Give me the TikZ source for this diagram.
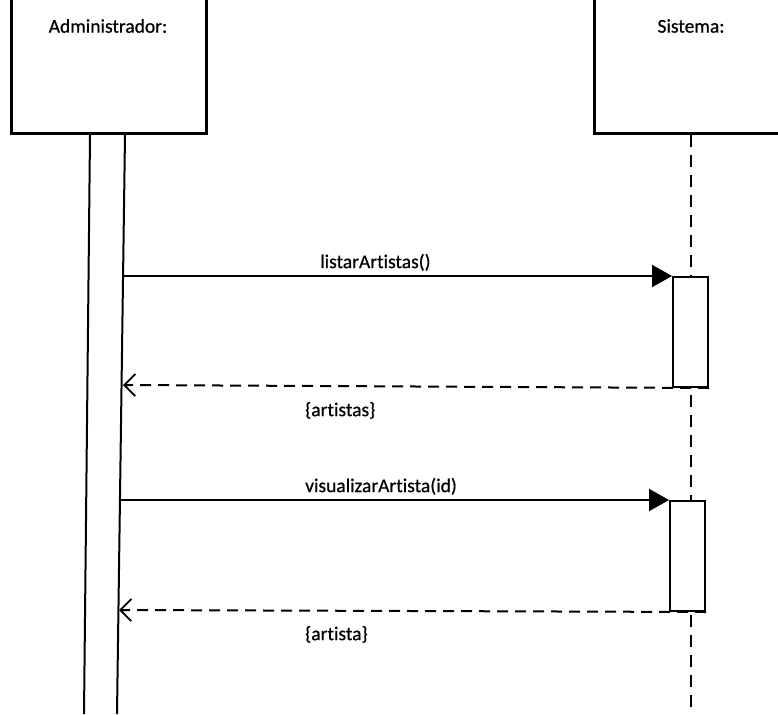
\documentclass[tikz,border=0pt]{standalone}
\usepackage{fontspec}
\setmainfont{Carlito}[RawFeature={-liga}, FakeBold=0.6]
\usetikzlibrary{arrows.meta}
\begin{document}
\begin{tikzpicture}[x=1pt,y=-1pt,
  every node/.style={font=\fontsize{19.5}{23}\selectfont, inner sep=0pt},
  actorbox/.style={draw, line width=2.6pt, anchor=south west, minimum height=170pt},
  actbar/.style={draw, line width=2pt, fill=white, anchor=north west, minimum width=35pt, minimum height=110pt},
  lifeline/.style={line width=2pt},
  sysline/.style={line width=2pt, dash pattern=on 12pt off 8pt},
  callmsg/.style={line width=2pt, -{Triangle[length=20pt,width=22pt]}},
  replymsg/.style={line width=2pt, dash pattern=on 11pt off 7pt, -{Straight Barb[length=11pt,width=22pt,line width=1.8pt]}},
  msglabel/.style={anchor=south west}]
\useasboundingbox (0,0) rectangle (778,714);
\clip (0,0) rectangle (778,714);
\fill[white] (0,0) rectangle (778,714);

% participant heads
\node[actorbox, minimum width=195pt] (admin) at (10,135) {};
\node[actorbox, minimum width=220pt] (sys) at (593,135) {};
\node (adminname) at (108,26) {Administrador:};
\node (sysname) at (691,26) {Sistema:};

% administrator lifeline (double line)
\coordinate (aL0) at (90,135);
\coordinate (aL1) at (84,714);
\coordinate (aR0) at (125,135);
\coordinate (aR1) at (117,714);
\draw[lifeline] (aL0) -- (aL1);
\draw[lifeline] (aR0) -- (aR1);

% system lifeline
\coordinate (s0) at (691,135);
\coordinate (s1) at (691,714);
\draw[sysline] (s0) -- (s1);

% activation bars on the system lifeline
\node[actbar] (act1) at (672,276) {};
\node[actbar] (act2) at (669,500) {};

% first exchange
\coordinate (c1) at (124,276);
\coordinate (r1) at (123,385);
\draw[callmsg] (c1) -- (act1.north west);
\draw[replymsg] (act1.south east) -- (r1);
\node[msglabel] (m1) at (320,271) {listarArtistas()};
\node[msglabel] (m2) at (305,419) {\{artistas\}};

% second exchange
\coordinate (c2) at (120,500);
\coordinate (r2) at (119,610);
\draw[callmsg] (c2) -- (act2.north west);
\draw[replymsg] (act2.south east) -- (r2);
\node[msglabel] (m3) at (305,495) {visualizarArtista(id)};
\node[msglabel] (m4) at (305,643) {\{artista\}};
\end{tikzpicture}
\end{document}
